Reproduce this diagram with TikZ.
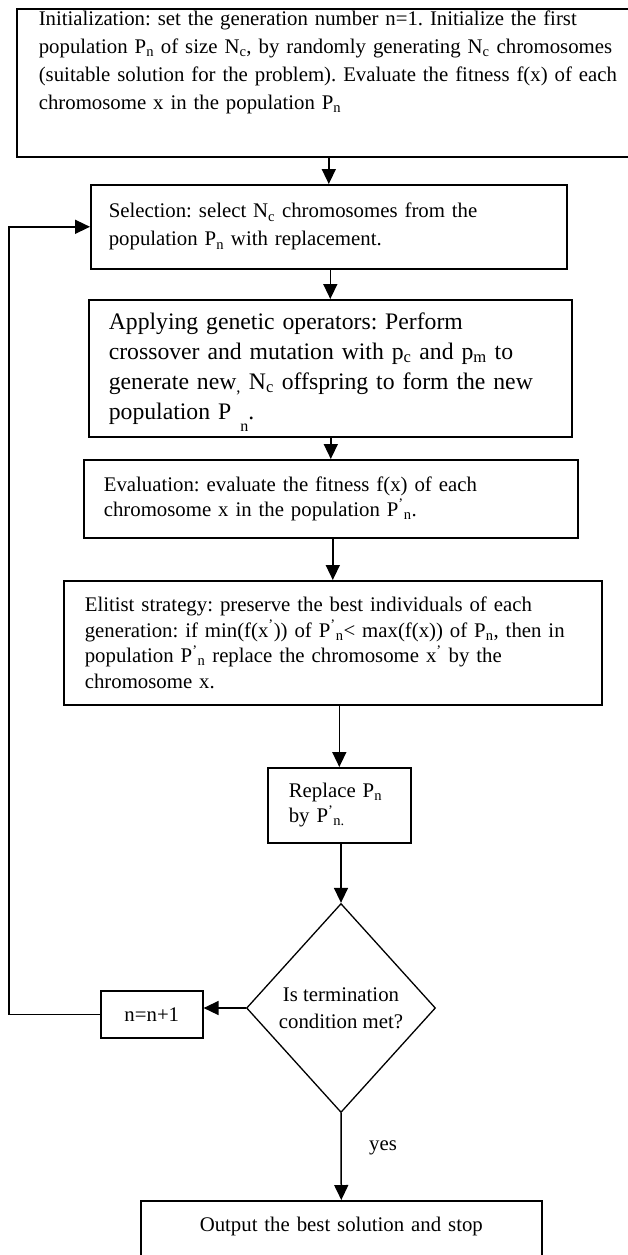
\documentclass[tikz,border=0pt]{standalone}
\usepackage{fontspec}
\setmainfont{Liberation Serif}
\frenchspacing
\usetikzlibrary{arrows.meta,shapes.geometric}
\tikzset{
    stepbox/.style={draw, line width=1.6pt, anchor=north west, align=left,
        inner xsep=#1, inner ysep=2pt, font=\fontsize{20.8pt}{28pt}\selectfont},
    stepbox/.default=20pt,
    decision/.style={diamond, draw, line width=1.3pt, minimum width=189pt,
        minimum height=209pt, inner sep=0pt, align=center,
        font=\fontsize{20.8pt}{27pt}\selectfont},
    arr/.style={line width=1.5pt, line cap=round, -{Triangle[length=15pt,width=14pt]}},
}
\begin{document}
\begin{tikzpicture}[x=1pt,y=-1pt]
    \useasboundingbox (0,0) rectangle (627,1255);

    \node[stepbox=22pt, text width=600pt, minimum height=148pt] (init) at (16,8)
    {Initialization: set the generation number n=1. Initialize the first\\
     population P\textsubscript{n} of size N\textsubscript{c}, by randomly generating N\textsubscript{c} chromosomes\\
     (suitable solution for the problem). Evaluate the fitness f(x) of each\\
     chromosome x in the population P\textsubscript{n}\\[17pt]\mbox{}};

    \node[stepbox=18pt, text width=440pt, minimum height=84pt] (sel) at (90,184)
    {Selection: select N\textsubscript{c} chromosomes from the\\
     population P\textsubscript{n} with replacement.};

    \node[stepbox=20pt, text width=443pt, minimum height=137pt,
        font=\fontsize{23.7pt}{30pt}\selectfont] (app) at (88,299)
    {Applying genetic operators: Perform\\
     crossover and mutation with p\textsubscript{c} and p\textsubscript{m} to\\
     generate new\textsubscript{,} N\textsubscript{c} offspring to form the new\\
     population P\kern9pt\raisebox{-12pt}[0pt][0pt]{\fontsize{16pt}{16pt}\selectfont n}.};

    \node[stepbox=20pt, text width=454pt, minimum height=78pt,
        font=\fontsize{20.8pt}{25pt}\selectfont] (eval) at (83,459)
    {Evaluation: evaluate the fitness f(x) of each\\
     chromosome x in the population P\textsuperscript{'}\textsubscript{n}.};

    \node[stepbox=21pt, text width=496pt, minimum height=124pt,
        font=\fontsize{20.8pt}{25.5pt}\selectfont] (elit) at (63,580)
    {Elitist strategy: preserve the best individuals of each\\
     generation: if min(f(x\textsuperscript{'})) of P\textsuperscript{'}\textsubscript{n}< max(f(x)) of P\textsubscript{n}, then in\\
     population P\textsuperscript{'}\textsubscript{n} replace the chromosome x\textsuperscript{'} by the\\
     chromosome x.};

    \node[stepbox=21pt, text width=101pt, minimum height=75pt,
        font=\fontsize{20.8pt}{25pt}\selectfont] (rep) at (267,767)
    {Replace P\textsubscript{n}\\
     by P\textsuperscript{'}\textsubscript{n.}};

    \node[decision] (dec) at (341,1008) {Is termination\\ condition met?};

    \node[stepbox=4pt, align=center, text width=94pt, minimum height=47pt] (incr) at (100,990) {n=n+1};

    \node[stepbox=4pt, align=center, text width=393pt, minimum height=80pt] (out) at (140,1200)
    {Output the best solution and stop\\[5pt]\mbox{}};

    % main flow
    \draw[arr] (init.south -| sel.north) -- (sel.north);
    \draw[arr] (sel.south -| app.north) -- (app.north);
    \draw[arr] (app.south -| eval.north) -- (eval.north);
    \draw[arr] (eval.south -| elit.north) -- (elit.north);
    \draw[arr] (elit.south -| rep.north) -- (rep.north);
    \draw[arr] (rep.south -| dec.north) -- (dec.north);
    \draw[arr] (dec.south) -- node[pos=0.4, right=24pt, font=\fontsize{20.8pt}{25pt}\selectfont] (yes) {yes} (out.north);

    % loop back
    \coordinate (loopx) at (9,0);
    \draw[arr] (dec.west) -- (dec.west -| incr.east);
    \draw[arr] (incr.west) -- (incr.west -| loopx) |- (sel.west);
\end{tikzpicture}
\end{document}
